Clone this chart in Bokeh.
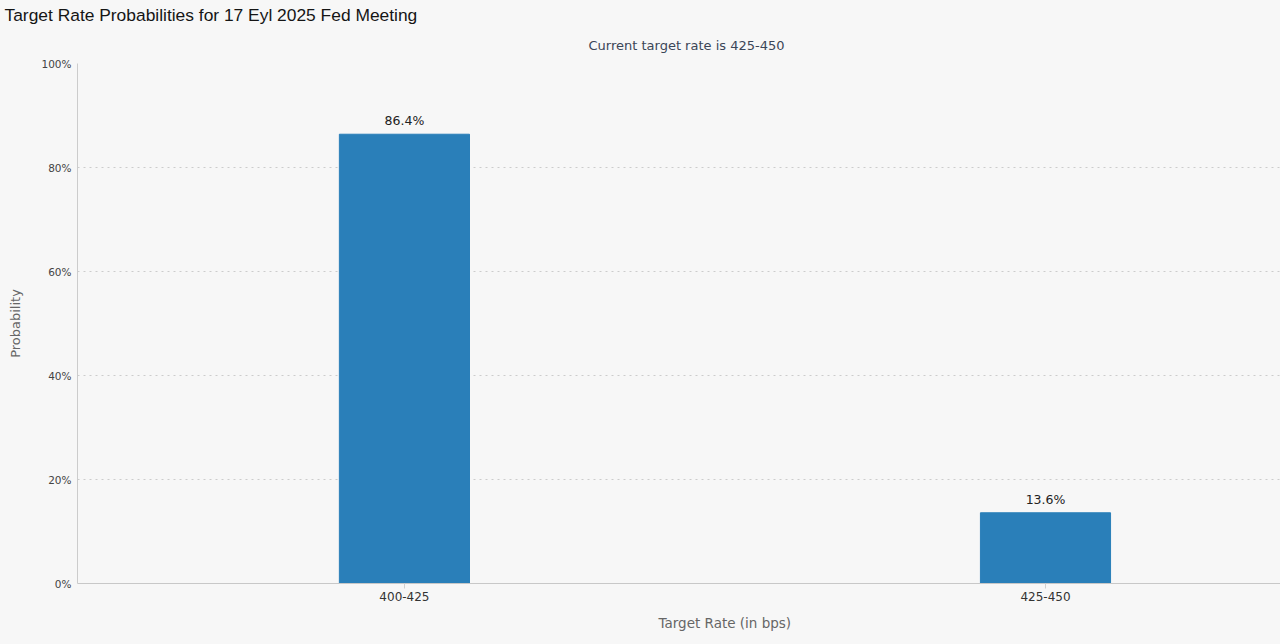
from bokeh.plotting import figure
from bokeh.models import Range1d, FixedTicker, ColumnDataSource, LabelSet, Title
from bokeh.embed import file_html
from bokeh.resources import INLINE
from bokeh.core.properties import value

categories = ["400-425", "425-450"]
probabilities = [86.4, 13.6]
value_labels = ["86.4%", "13.6%"]
y_ticks = [0, 20, 40, 60, 80, 100]
y_tick_labels = ["0%", "20%", "40%", "60%", "80%", "100%"]

title_text = "Target Rate Probabilities for 17 Eyl 2025 Fed Meeting"
subtitle_text = "Current target rate is 425-450"
x_label = "Target Rate (in bps)"
y_label = "Probability"

BG = "#f7f7f7"
BAR = "#2a7fb9"
SANS = "DejaVu Sans"

xs = list(range(len(categories)))
src = ColumnDataSource(dict(x=xs, top=probabilities, lab=value_labels))

xr = Range1d(-0.510, 1.3666)
yr = Range1d(0, 100)
p = figure(width=1280, height=644, output_backend="svg", toolbar_location=None,
           x_range=xr, y_range=yr,
           title=None, min_border_left=77, min_border_top=63,
           min_border_bottom=61, min_border_right=0,
           background_fill_color=BG, border_fill_color=BG, outline_line_color=None)

# subtitle first (closest to the plot), then main title above it
p.add_layout(Title(text=subtitle_text, align="left", offset=511, standoff=22,
                   text_font=SANS, text_font_size="13px", text_font_style="normal",
                   text_color="#3b4658"), "above")
p.add_layout(Title(text=title_text, align="left", offset=-73, standoff=0,
                   text_font="Liberation Sans", text_font_size="17.4px",
                   text_font_style="normal", text_color="#151515"), "above")

# x axis title, placed below the tick labels
p.add_layout(Title(text=x_label, align="left", offset=581, standoff=18,
                   text_font=SANS, text_font_size="13.5px", text_font_style="normal",
                   text_color="#666666"), "below")

p.vbar(x="x", top="top", width=0.203, source=src, fill_color=BAR, line_color=BAR)

p.add_layout(LabelSet(x="x", y="top", text="lab", source=src, text_align="center",
                      text_baseline="bottom", y_offset=6, text_font=value(SANS),
                      text_font_size="12.5px", text_color="#222222"))

# x axis
p.xaxis.ticker = FixedTicker(ticks=xs)
p.xaxis.major_label_overrides = {i: c for i, c in zip(xs, categories)}
p.xaxis.major_label_text_font = SANS
p.xaxis.major_label_text_font_size = "12px"
p.xaxis.major_label_text_color = "#333333"
p.xaxis.major_label_standoff = 3
p.xaxis.axis_line_color = "#c8c8c8"
p.xaxis.major_tick_line_color = "#d0d0d0"
p.xaxis.major_tick_out = 5
p.xaxis.major_tick_in = 0
p.xaxis.minor_tick_line_color = None

# y axis
p.yaxis.ticker = FixedTicker(ticks=y_ticks)
p.yaxis.major_label_overrides = {t: l for t, l in zip(y_ticks, y_tick_labels)}
p.yaxis.axis_label = y_label
p.yaxis.axis_label_text_font = SANS
p.yaxis.axis_label_text_font_size = "13px"
p.yaxis.axis_label_text_font_style = "normal"
p.yaxis.axis_label_text_color = "#666666"
p.yaxis.axis_label_standoff = 15
p.yaxis.major_label_text_font = SANS
p.yaxis.major_label_text_font_size = "10.5px"
p.yaxis.major_label_text_color = "#444444"
p.yaxis.major_label_standoff = 6
p.yaxis.axis_line_color = "#cccccc"
p.yaxis.major_tick_line_color = None
p.yaxis.major_tick_out = 0
p.yaxis.major_tick_in = 0
p.yaxis.minor_tick_line_color = None

p.xgrid.grid_line_color = None
p.ygrid.grid_line_color = "#cccccc"
p.ygrid.grid_line_dash = "2 4"
p.ygrid.grid_line_width = 1

html = file_html(p, INLINE)
html = html.replace("<head>", "<head><style>html,body{background:#f7f7f7;}</style>", 1)
open("out.html", "w").write(html)
